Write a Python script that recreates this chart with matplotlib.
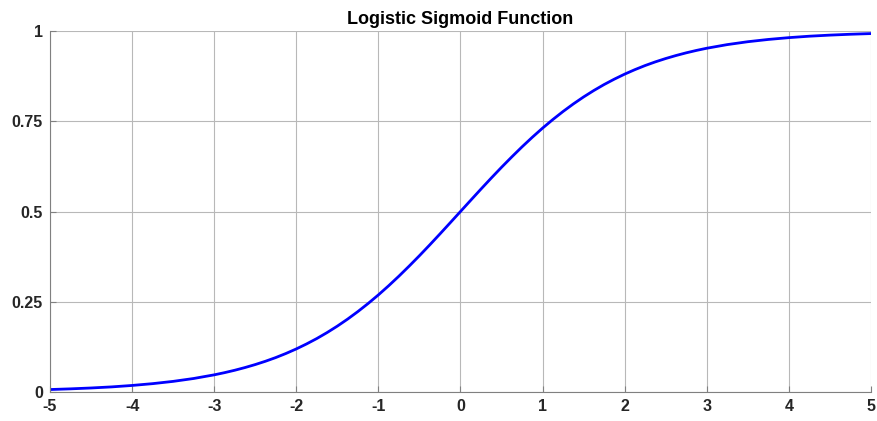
import matplotlib
matplotlib.use('Agg')
import matplotlib.pyplot as plt

# values
x_vals = [-5, -4.75, -4.5, -4.25, -4, -3.75, -3.5, -3.25, -3,
          -2.875, -2.75, -2.625, -2.5, -2.375, -2.25, -2.125, -2,
          -1.875, -1.75, -1.625, -1.5, -1.375, -1.25, -1.125, -1,
          -0.875, -0.75, -0.625, -0.5, -0.375, -0.25, -0.125, 0,
          0.125, 0.25, 0.375, 0.5, 0.625, 0.75, 0.875, 1,
          1.125, 1.25, 1.375, 1.5, 1.625, 1.75, 1.875, 2,
          2.125, 2.25, 2.375, 2.5, 2.625, 2.75, 2.875, 3,
          3.25, 3.5, 3.75, 4, 4.25, 4.5, 4.75, 5]
y_vals = [0.0067, 0.0086, 0.0110, 0.0140, 0.0180, 0.0230, 0.0293, 0.0373, 0.0474,
          0.0534, 0.0601, 0.0676, 0.0759, 0.0851, 0.0953, 0.1067, 0.1192,
          0.1330, 0.1480, 0.1645, 0.1824, 0.2018, 0.2227, 0.2451, 0.2689,
          0.2942, 0.3208, 0.3487, 0.3775, 0.4073, 0.4378, 0.4688, 0.5,
          0.5312, 0.5622, 0.5927, 0.6225, 0.6513, 0.6792, 0.7058, 0.7311,
          0.7549, 0.7773, 0.7982, 0.8176, 0.8355, 0.8520, 0.8670, 0.8808,
          0.8933, 0.9047, 0.9149, 0.9241, 0.9324, 0.9399, 0.9466, 0.9526,
          0.9627, 0.9707, 0.9770, 0.9820, 0.9860, 0.9890, 0.9914, 0.9933]
x_ticks = [-5, -4, -3, -2, -1, 0, 1, 2, 3, 4, 5]
y_ticks = [0, 0.25, 0.5, 0.75, 1]
y_labels = ['0', '0.25', '0.5', '0.75', '1']

plt.rcParams['font.family'] = ['Liberation Sans', 'DejaVu Sans']

fig = plt.figure(figsize=(8.77, 4.21), dpi=100)
ax = fig.add_axes([0.057, 0.069, 0.936, 0.857])

ax.plot(x_vals, y_vals, color='#0000ff', linewidth=2)

ax.set_xlim(-5, 5)
ax.set_ylim(0, 1)
ax.set_xticks(x_ticks)
ax.set_xticklabels([str(t) for t in x_ticks])
ax.set_yticks(y_ticks)
ax.set_yticklabels(y_labels)
ax.grid(True, color='#b8b8b8', linewidth=0.8)
ax.set_axisbelow(True)

for s in ['top', 'right']:
    ax.spines[s].set_visible(False)
for s in ['left', 'bottom']:
    ax.spines[s].set_color('#808080')
    ax.spines[s].set_linewidth(0.8)

ax.tick_params(direction='in', length=4, color='#808080', labelsize=11.5,
               labelcolor='#262626', pad=5)
for lab in ax.get_xticklabels() + ax.get_yticklabels():
    lab.set_fontweight('bold')

ax.set_title('Logistic Sigmoid Function', fontsize=13, fontweight='bold', pad=5)

fig.savefig('out.png', dpi=100)
